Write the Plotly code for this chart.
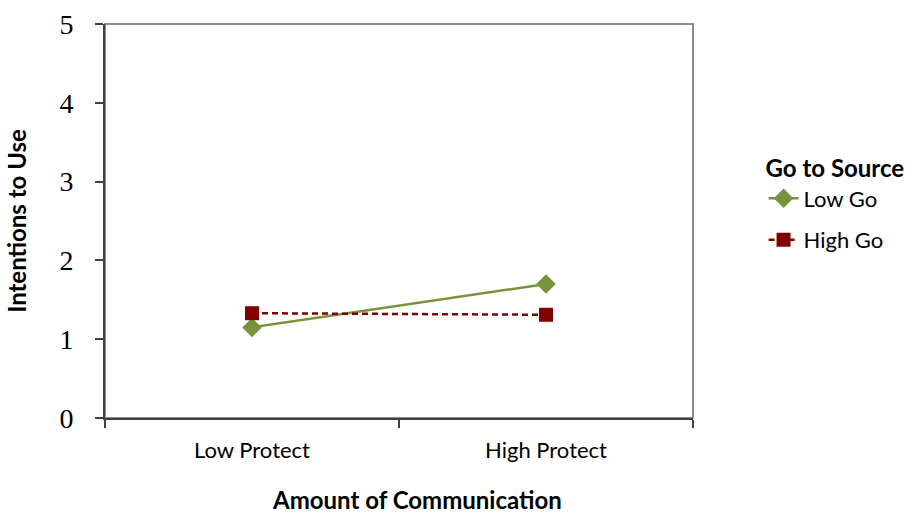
import plotly.graph_objects as go

# Mean intentions to use by amount of communication and "go to source" level
categories = ["Low Protect", "High Protect"]
low_go = [1.15, 1.70]
high_go = [1.33, 1.31]
y_ticks = [0, 1, 2, 3, 4, 5]

SANS = "Lato, Open Sans, sans-serif"

fig = go.Figure()

fig.add_trace(go.Scatter(
    x=categories, y=low_go, name="Low Go", mode="lines+markers",
    legendgroup="low",
    line=dict(color="#77933C", width=2.5),
    marker=dict(symbol="diamond", size=15, color="#77933C"),
))
fig.add_trace(go.Scatter(
    x=categories, y=high_go, name="High Go", mode="lines+markers",
    legendgroup="high",
    line=dict(color="#800000", width=2.5, dash="6px,4px"),
    marker=dict(symbol="square", size=14, color="#800000"),
))

# light frame around the plotting area
fig.add_shape(type="rect", xref="paper", yref="paper", x0=0, x1=1, y0=0, y1=1,
              line=dict(color="#8c8c8c", width=2), layer="below")

# horizontal axis title, set slightly right of the plot centre
fig.add_annotation(text="<b>Amount of Communication</b>", xref="paper", yref="paper",
                   x=0.531, y=-0.208, xanchor="center", yanchor="middle",
                   showarrow=False, font=dict(size=24, family=SANS))

fig.update_layout(
    width=921, height=514,
    margin=dict(l=105, r=228, t=24, b=96),
    paper_bgcolor="white", plot_bgcolor="white",
    font=dict(family=SANS, color="black"),
    showlegend=True,
    legend=dict(
        title=dict(text="<b>Go to Source</b>", font=dict(size=24, family=SANS)),
        font=dict(size=22, family=SANS),
        x=1.12, xanchor="left", y=0.69, yanchor="top",
        bgcolor="rgba(0,0,0,0)", traceorder="grouped", tracegroupgap=10,
    ),
    xaxis=dict(
        type="category", range=[-0.5, 1.5], tickson="boundaries",
        ticks="outside", ticklen=8, tickcolor="#404040", tickwidth=2,
        showline=True, linecolor="#404040", linewidth=2, showgrid=False,
        tickfont=dict(size=22, family=SANS),
        ticklabelstandoff=12, automargin=False,
    ),
    yaxis=dict(
        range=[0, 5], tickvals=y_ticks, ticks="outside", ticklen=8,
        tickcolor="#404040", tickwidth=2,
        showline=True, linecolor="#404040", linewidth=2, showgrid=False, zeroline=False,
        tickfont=dict(size=28, family="Liberation Serif, Times New Roman, serif"),
        ticklabelstandoff=16, automargin=False,
        title=dict(text="<b>Intentions to Use</b>", standoff=26,
                   font=dict(size=24, family=SANS)),
    ),
)

fig.write_html("out.html")
